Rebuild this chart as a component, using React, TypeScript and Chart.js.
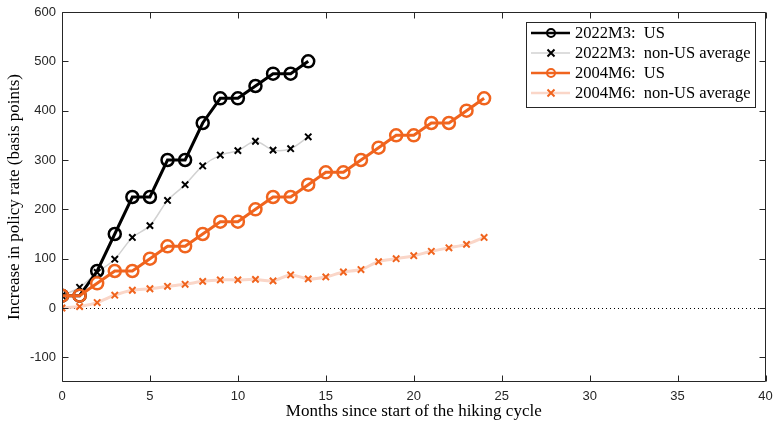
import React, { useEffect, useRef } from "react";
import { Chart, registerables } from "chart.js";

Chart.register(...registerables);

const months2022 = [0, 1, 2, 3, 4, 5, 6, 7, 8, 9, 10, 11, 12, 13, 14];
const us2022 = [25, 25, 75, 150, 225, 225, 300, 300, 375, 425, 425, 450, 475, 475, 500];
const nonUs2022 = [25, 42, 72, 99, 143, 167, 218, 250, 288, 310, 319, 338, 320, 323, 347];

const months2004 = [0, 1, 2, 3, 4, 5, 6, 7, 8, 9, 10, 11, 12, 13, 14, 15, 16, 17, 18, 19, 20, 21, 22, 23, 24];
const us2004 = [25, 25, 50, 75, 75, 100, 125, 125, 150, 175, 175, 200, 225, 225, 250, 275, 275, 300, 325, 350, 350, 375, 375, 400, 425];
const nonUs2004 = [0, 3, 11, 26, 36, 39, 44, 48, 54, 57, 57, 58, 55, 67, 59, 63, 73, 78, 94, 100, 106, 115, 122, 129, 143];

const xTicks = [0, 5, 10, 15, 20, 25, 30, 35, 40];
const yTicks = [-100, 0, 100, 200, 300, 400, 500, 600];

const legendLabels = ["2022M3:  US", "2022M3:  non-US average", "2004M6:  US", "2004M6:  non-US average"];

const BLACK = "#000000";
const ORANGE = "#f0641e";
const LIGHT_ORANGE = "rgba(250,214,200,1)";
const GRAY = "#d2d2d2";
const AXIS = "#262626";
const SERIF = "'Liberation Serif', 'Times New Roman', serif";
const SANS = "'Liberation Sans', Arial, sans-serif";

const toXY = (xs: number[], ys: number[]) => xs.map((x, i) => ({ x, y: ys[i] }));

export default function App() {
  const ref = useRef<HTMLCanvasElement | null>(null);
  useEffect(() => {
    document.body.style.margin = "0";
    const canvas = ref.current!;
    const framePlugin = {
      id: "frame",
      beforeDatasetsDraw(chart: any) {
        const { ctx, chartArea: a, scales } = chart;
        const ys = scales.y;
        ctx.save();
        ctx.strokeStyle = "#000";
        ctx.lineWidth = 1;
        ctx.setLineDash([1, 3]);
        const y0 = Math.round(ys.getPixelForValue(0)) + 0.5;
        ctx.beginPath();
        ctx.moveTo(a.left, y0);
        ctx.lineTo(a.right, y0);
        ctx.stroke();
        ctx.restore();
      },
      afterDraw(chart: any) {
        const { ctx, chartArea: a, scales } = chart;
        const xs = scales.x, ys = scales.y;
        ctx.save();
        ctx.strokeStyle = AXIS;
        ctx.lineWidth = 1;
        const L = Math.round(a.left) + 0.5, R = Math.round(a.right) - 0.5;
        const T = Math.round(a.top) + 0.5, B = Math.round(a.bottom) - 0.5;
        ctx.beginPath();
        ctx.rect(L, T, R - L, B - T);
        ctx.stroke();
        const tl = 6;
        ctx.beginPath();
        xTicks.forEach((v) => {
          const px = Math.round(xs.getPixelForValue(v)) + 0.5;
          ctx.moveTo(px, B); ctx.lineTo(px, B - tl);
          ctx.moveTo(px, T); ctx.lineTo(px, T + tl);
        });
        yTicks.forEach((v) => {
          const py = Math.round(ys.getPixelForValue(v)) + 0.5;
          ctx.moveTo(L, py); ctx.lineTo(L + tl, py);
          ctx.moveTo(R, py); ctx.lineTo(R - tl, py);
        });
        ctx.stroke();

        // legend
        const bx = 526.5, by = 22.5, bw = 229, bh = 85;
        ctx.fillStyle = "#fff";
        ctx.fillRect(bx, by, bw, bh);
        ctx.strokeStyle = AXIS;
        ctx.strokeRect(bx, by, bw, bh);
        const rows = [33, 53, 73, 93];
        const styles = [
          { line: BLACK, lw: 2.5, marker: "circle", mc: BLACK },
          { line: GRAY, lw: 1.5, marker: "x", mc: BLACK },
          { line: ORANGE, lw: 2.5, marker: "circle", mc: ORANGE },
          { line: LIGHT_ORANGE, lw: 2.5, marker: "x", mc: ORANGE },
        ];
        ctx.font = `16.5px ${SERIF}`;
        ctx.textBaseline = "middle";
        rows.forEach((ry, i) => {
          const s = styles[i];
          ctx.strokeStyle = s.line;
          ctx.lineWidth = s.lw;
          ctx.beginPath();
          ctx.moveTo(531, ry); ctx.lineTo(570, ry);
          ctx.stroke();
          ctx.strokeStyle = s.mc;
          if (s.marker === "circle") {
            ctx.lineWidth = 2;
            ctx.beginPath();
            ctx.arc(551, ry, 4, 0, Math.PI * 2);
            ctx.stroke();
          } else {
            ctx.lineWidth = 2;
            ctx.beginPath();
            ctx.moveTo(547.5, ry - 3.5); ctx.lineTo(554.5, ry + 3.5);
            ctx.moveTo(554.5, ry - 3.5); ctx.lineTo(547.5, ry + 3.5);
            ctx.stroke();
          }
          ctx.fillStyle = "#000";
          ctx.fillText(legendLabels[i], 575, ry + 1);
        });
        ctx.restore();
      },
    };

    const chart = new Chart(canvas, {
      type: "line",
      data: {
        datasets: [
          {
            label: legendLabels[2],
            data: toXY(months2004, us2004),
            borderColor: ORANGE,
            borderWidth: 3,
            pointStyle: "circle",
            pointRadius: 6,
            pointBorderWidth: 2.5,
            pointBorderColor: ORANGE,
            pointBackgroundColor: "rgba(0,0,0,0)",
            order: 0,
          },
          {
            label: legendLabels[3],
            data: toXY(months2004, nonUs2004),
            borderColor: LIGHT_ORANGE,
            borderWidth: 3,
            tension: 0.3,
            pointStyle: "crossRot",
            pointRadius: 4.5,
            pointBorderWidth: 2,
            pointBorderColor: ORANGE,
            order: 1,
          },
          {
            label: legendLabels[0],
            data: toXY(months2022, us2022),
            borderColor: BLACK,
            borderWidth: 3,
            pointStyle: "circle",
            pointRadius: 6,
            pointBorderWidth: 2.5,
            pointBorderColor: BLACK,
            pointBackgroundColor: "rgba(0,0,0,0)",
            order: 2,
          },
          {
            label: legendLabels[1],
            data: toXY(months2022, nonUs2022),
            borderColor: GRAY,
            borderWidth: 1.5,
            tension: 0.3,
            pointStyle: "crossRot",
            pointRadius: 4.5,
            pointBorderWidth: 2,
            pointBorderColor: BLACK,
            order: 3,
          },
        ],
      },
      options: {
        responsive: false,
        animation: false,
        layout: { padding: { left: 0, right: 8, top: 12, bottom: 0 } },
        plugins: { legend: { display: false }, tooltip: { enabled: false } },
        scales: {
          x: {
            type: "linear",
            min: 0,
            max: 40,
            afterBuildTicks: (s: any) => { s.ticks = xTicks.map((v) => ({ value: v })); },
            afterFit: (s: any) => { s.height = 40; s.paddingLeft = 0; s.paddingRight = 0; },
            grid: { display: false, drawTicks: false },
            border: { display: false },
            ticks: { color: AXIS, font: { family: SANS, size: 13 }, padding: 7, maxRotation: 0 },
            title: { display: true, text: "Months since start of the hiking cycle", color: "#000", font: { family: SERIF, size: 17 }, padding: { top: 2, bottom: 0 } },
          },
          y: {
            type: "linear",
            min: -150,
            max: 600,
            afterBuildTicks: (s: any) => { s.ticks = yTicks.map((v) => ({ value: v })); },
            afterFit: (s: any) => { s.width = 62; s.paddingTop = 0; s.paddingBottom = 0; },
            grid: { display: false, drawTicks: false },
            border: { display: false },
            ticks: { color: AXIS, font: { family: SANS, size: 13 }, padding: 6 },
            title: { display: true, text: "Increase in policy rate (basis points)", color: "#000", font: { family: SERIF, size: 17 }, padding: { top: 4, bottom: 2 } },
          },
        },
      },
      plugins: [framePlugin],
    } as any);
    return () => chart.destroy();
  }, []);
  return <canvas ref={ref} width={774} height={422} style={{ display: "block" }} />;
}
